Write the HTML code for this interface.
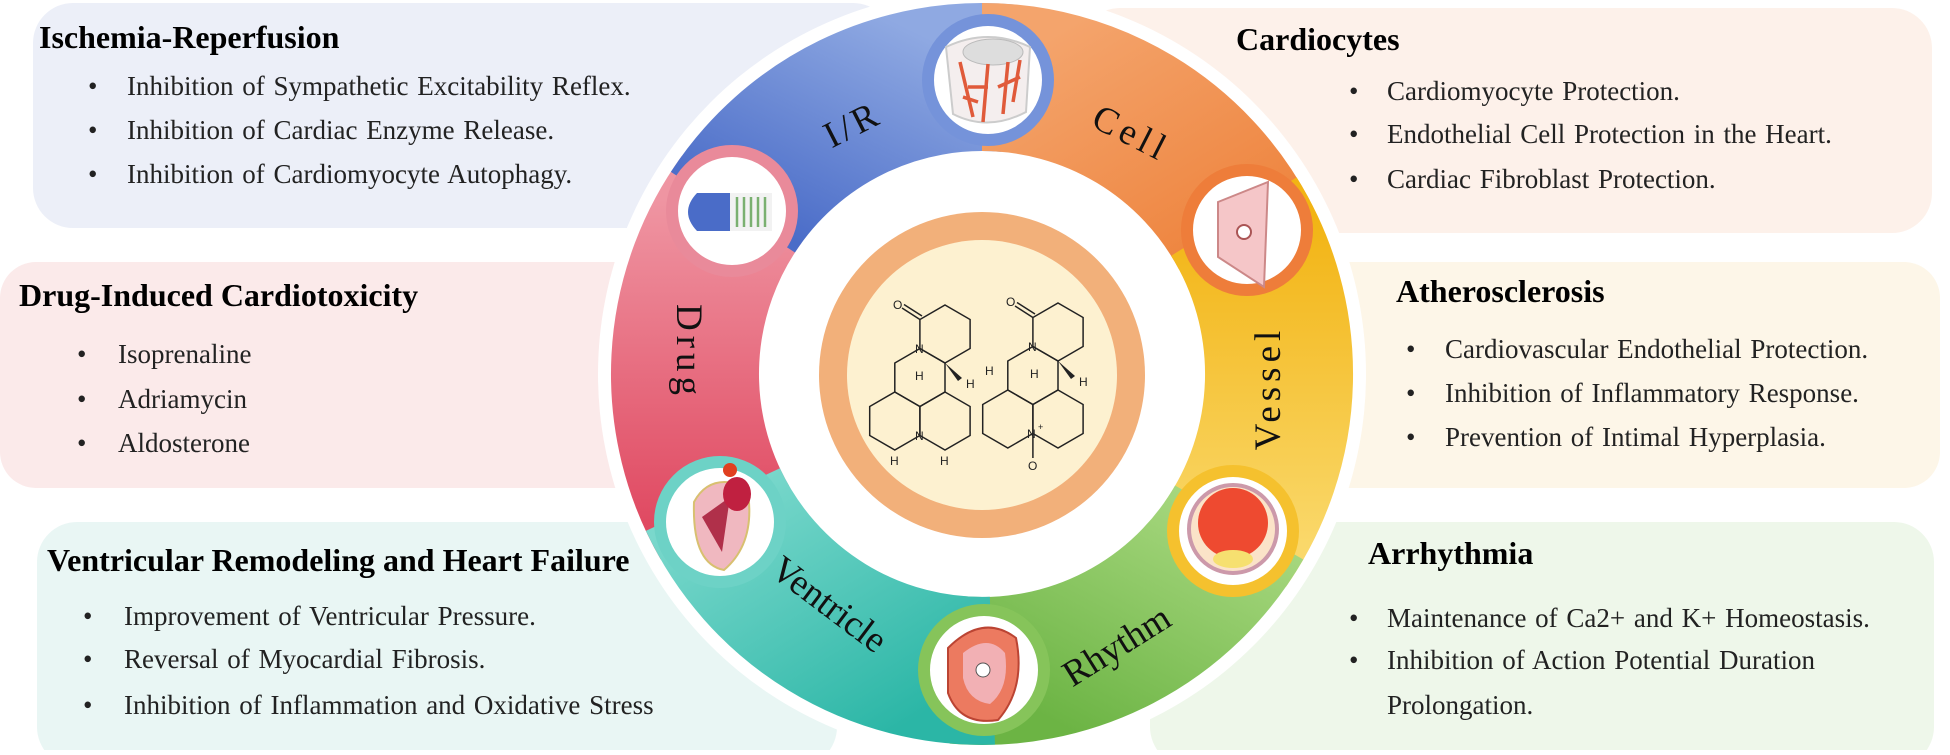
<!DOCTYPE html>
<html><head><meta charset="utf-8"><style>
body{margin:0;width:1950px;height:750px;overflow:hidden;background:#fff;font-family:"Liberation Serif",serif;}
</style></head><body>
<svg width="1950" height="750" viewBox="0 0 1950 750" xmlns="http://www.w3.org/2000/svg" font-family="Liberation Serif, serif">
<defs>
<linearGradient id="gb" x1="0" y1="1" x2="1" y2="0"><stop offset="0" stop-color="#4a6cc8"/><stop offset="1" stop-color="#8fa9e2"/></linearGradient>
<linearGradient id="go" x1="0" y1="0" x2="1" y2="1"><stop offset="0" stop-color="#f4a46c"/><stop offset="1" stop-color="#ee843e"/></linearGradient>
<linearGradient id="gy" x1="0" y1="0" x2="0" y2="1"><stop offset="0" stop-color="#f2b414"/><stop offset="1" stop-color="#fad86a"/></linearGradient>
<linearGradient id="gg" x1="1" y1="0" x2="0" y2="1"><stop offset="0" stop-color="#a6d77e"/><stop offset="1" stop-color="#6cb444"/></linearGradient>
<linearGradient id="gt" x1="0" y1="0" x2="1" y2="1"><stop offset="0" stop-color="#7ad8cc"/><stop offset="1" stop-color="#2bb6a6"/></linearGradient>
<linearGradient id="gp" x1="0" y1="0" x2="0" y2="1"><stop offset="0" stop-color="#ef95a2"/><stop offset="1" stop-color="#e04a62"/></linearGradient>
</defs>
<!-- boxes -->
<rect x="33" y="3" width="860" height="225" rx="40" fill="#eceff8"/>
<rect x="0" y="262" width="720" height="226" rx="36" fill="#fbeaea"/>
<rect x="37" y="522" width="800" height="245" rx="40" fill="#e9f6f4"/>
<rect x="1080" y="8" width="852" height="225" rx="40" fill="#fdf1ea"/>
<rect x="1250" y="262" width="690" height="226" rx="36" fill="#fdf6e8"/>
<rect x="1150" y="522" width="784" height="245" rx="40" fill="#eef7ea"/>

<!-- ring -->
<circle cx="982" cy="374" r="384" fill="#fff"/>
<g transform="translate(-3,-1)">
<g fill="none" stroke="none" stroke-width="148">
<path d="M 727.8 523.5 A 297 297 0 0 1 744.7 200.4" stroke="url(#gp)"/>
<path d="M 735.9 213.2 A 297 297 0 0 1 1010.9 79.2" stroke="url(#gb)"/>
<path d="M 985 78 A 297 297 0 0 1 1247.3 235.7" stroke="url(#go)"/>
<path d="M 1236.9 217.6 A 297 297 0 0 1 1228.3 545.4" stroke="url(#gy)"/>
<path d="M 1242.2 523.5 A 297 297 0 0 1 959.1 670.9" stroke="url(#gg)"/>
<path d="M 995.4 671.7 A 297 297 0 0 1 715.9 500.6" stroke="url(#gt)"/>
</g>
<circle cx="985" cy="375" r="221" fill="#fff"/>
</g>

<!-- icons -->
<g stroke-width="12">
<circle cx="988" cy="80" r="60" fill="#fff" stroke="#7593da"/>
<circle cx="1247" cy="230" r="60" fill="#fff" stroke="#ee7d3a"/>
<circle cx="1233" cy="531" r="60" fill="#fff" stroke="#f5c12e"/>
<circle cx="984" cy="670" r="60" fill="#fff" stroke="#86c45a"/>
<circle cx="720" cy="522" r="60" fill="#fff" stroke="#6dd2c6"/>
<circle cx="732" cy="211" r="60" fill="#fff" stroke="#e98a9a"/>
</g>
<!-- icon content -->
<path d="M946 47 Q988 27 1030 47 L1026 112 Q988 132 953 114 Z" fill="#f4eeee" stroke="#ccc" stroke-width="2"/>
<ellipse cx="993" cy="52" rx="30" ry="13" fill="#ddd" stroke="#bbb"/>
<path d="M960 62 L973 117 M988 64 L983 122 M1008 62 L1003 114 M1020 60 L1013 102 M968 87 L988 87 M998 87 L1020 77 M978 102 L963 97" stroke="#e05a3a" stroke-width="3.5" fill="none"/>
<path d="M1218 202 L1268 182 L1264 287 L1218 257 Z" fill="#f5c6c8" stroke="#c88" stroke-width="2"/>
<circle cx="1244" cy="232" r="7" fill="#fff" stroke="#a55" stroke-width="2"/>
<circle cx="1233" cy="529" r="44" fill="#fbe3c8" stroke="#c9a" stroke-width="4"/>
<circle cx="1233" cy="523" r="35" fill="#ee4a30"/>
<ellipse cx="1233" cy="559" rx="20" ry="9" fill="#f6e070"/>
<path d="M948 648 Q983 613 1016 638 Q1026 688 998 720 Q960 726 948 693 Z" fill="#ec7a60" stroke="#b43" stroke-width="2"/>
<path d="M963 653 Q988 633 1005 653 Q1010 688 990 704 Q968 701 963 678Z" fill="#f2b0b4"/>
<circle cx="983" cy="670" r="7" fill="#fff" stroke="#555"/>
<path d="M694 502 Q710 472 747 487 Q757 542 724 570 Q692 564 694 502Z" fill="#f0b8c0" stroke="#d8c070" stroke-width="2"/>
<path d="M702 517 L730 497 L722 552 Z" fill="#b0304a"/>
<ellipse cx="737" cy="494" rx="14" ry="17" fill="#c02040"/>
<circle cx="730" cy="470" r="7" fill="#e04020"/>
<path d="M697 193 L730 193 L730 231 L697 231 Q679 212 697 193 Z" fill="#4a6cc8"/>
<rect x="730" y="193" width="42" height="38" fill="#f2f2f2"/>
<g stroke="#7ab070" stroke-width="2.5"><line x1="737" y1="197" x2="737" y2="227"/><line x1="744" y1="197" x2="744" y2="227"/><line x1="751" y1="197" x2="751" y2="227"/><line x1="758" y1="197" x2="758" y2="227"/><line x1="765" y1="197" x2="765" y2="227"/></g>

<!-- ring labels -->
<g font-size="37" fill="#111">
<text transform="translate(858,135) rotate(-27)" text-anchor="middle" letter-spacing="4">I/R</text>
<text transform="translate(1126,144) rotate(27)" text-anchor="middle" letter-spacing="5">Cell</text>
<text transform="translate(1280,388) rotate(-90)" text-anchor="middle" letter-spacing="5">Vessel</text>
<text transform="translate(1123,656) rotate(-32)" text-anchor="middle">Rhythm</text>
<text transform="translate(822,614) rotate(37)" text-anchor="middle">Ventricle</text>
<text transform="translate(677,352) rotate(90)" text-anchor="middle" letter-spacing="5">Drug</text>
</g>

<!-- center -->
<circle cx="982" cy="375" r="163" fill="#f2b07a"/>
<circle cx="982" cy="375" r="135" fill="#fdf1d0"/>
<g fill="none" stroke="#222" stroke-width="1.5">
<polygon points="945,305 970.1,319.5 970.1,348.5 945,363 919.9,348.5 919.9,319.5"/>
<polygon points="919.9,348.5 945,363 945,392 919.9,406.5 894.8,392 894.8,363"/>
<polygon points="894.8,392 919.9,406.5 919.9,435.5 894.8,450 869.7,435.5 869.7,406.5"/>
<polygon points="945,392 970.1,406.5 970.1,435.5 945,450 919.9,435.5 919.9,406.5"/>
<line x1="919.9" y1="319.5" x2="902" y2="308"/><line x1="922" y1="316" x2="904" y2="304.5"/>
<polygon points="1058,303 1083.1,317.5 1083.1,346.5 1058,361 1032.9,346.5 1032.9,317.5"/>
<polygon points="1032.9,346.5 1058,361 1058,390 1032.9,404.5 1007.8,390 1007.8,361"/>
<polygon points="1007.8,390 1032.9,404.5 1032.9,433.5 1007.8,448 982.7,433.5 982.7,404.5"/>
<polygon points="1058,390 1083.1,404.5 1083.1,433.5 1058,448 1032.9,433.5 1032.9,404.5"/>
<line x1="1032.9" y1="317.5" x2="1015" y2="306"/><line x1="1035" y1="314" x2="1017" y2="302.5"/>
<line x1="1032.9" y1="433.5" x2="1032.9" y2="458"/>
</g>
<polygon points="945,363 962,378 958,381" fill="#222"/>
<polygon points="1058,361 1075,376 1071,379" fill="#222"/>
<g font-family="Liberation Sans, sans-serif" font-size="12" fill="#222">
<text x="893" y="309">O</text><text x="915" y="353">N</text><text x="915" y="440">N</text>
<text x="966" y="388">H</text><text x="915" y="380">H</text><text x="890" y="465">H</text><text x="940" y="465">H</text>
<text x="1006" y="306">O</text><text x="1028" y="351">N</text><text x="1027" y="438">N</text><text x="1038" y="430" font-size="9">+</text><text x="1028" y="470">O</text>
<text x="1079" y="386">H</text><text x="985" y="375">H</text><text x="1030" y="378">H</text>
</g>

<!-- text -->
<g font-size="32" font-weight="bold" fill="#000">
<text x="39" y="48">Ischemia-Reperfusion</text>
<text x="19" y="306">Drug-Induced Cardiotoxicity</text>
<text x="47" y="571">Ventricular Remodeling and Heart Failure</text>
<text x="1236" y="50">Cardiocytes</text>
<text x="1396" y="302">Atherosclerosis</text>
<text x="1368" y="564">Arrhythmia</text>
</g>
<g font-size="27" fill="#222" word-spacing="2">
<text x="88" y="95">•</text><text x="127" y="95">Inhibition of Sympathetic Excitability Reflex.</text>
<text x="88" y="139">•</text><text x="127" y="139">Inhibition of Cardiac Enzyme Release.</text>
<text x="88" y="183">•</text><text x="127" y="183">Inhibition of Cardiomyocyte Autophagy.</text>
<text x="77" y="363">•</text><text x="118" y="363">Isoprenaline</text>
<text x="77" y="408">•</text><text x="118" y="408">Adriamycin</text>
<text x="77" y="452">•</text><text x="118" y="452">Aldosterone</text>
<text x="83" y="625">•</text><text x="124" y="625">Improvement of Ventricular Pressure.</text>
<text x="83" y="668">•</text><text x="124" y="668">Reversal of Myocardial Fibrosis.</text>
<text x="83" y="714">•</text><text x="124" y="714">Inhibition of Inflammation and Oxidative Stress</text>
<text x="1349" y="100">•</text><text x="1387" y="100">Cardiomyocyte Protection.</text>
<text x="1349" y="143">•</text><text x="1387" y="143">Endothelial Cell Protection in the Heart.</text>
<text x="1349" y="188">•</text><text x="1387" y="188">Cardiac Fibroblast Protection.</text>
<text x="1406" y="358">•</text><text x="1445" y="358">Cardiovascular Endothelial Protection.</text>
<text x="1406" y="402">•</text><text x="1445" y="402">Inhibition of Inflammatory Response.</text>
<text x="1406" y="446">•</text><text x="1445" y="446">Prevention of Intimal Hyperplasia.</text>
<text x="1349" y="627">•</text><text x="1387" y="627">Maintenance of Ca2+ and K+ Homeostasis.</text>
<text x="1349" y="669">•</text><text x="1387" y="669">Inhibition of Action Potential Duration</text>
<text x="1387" y="714">Prolongation.</text>
</g>
</svg>
</body></html>
